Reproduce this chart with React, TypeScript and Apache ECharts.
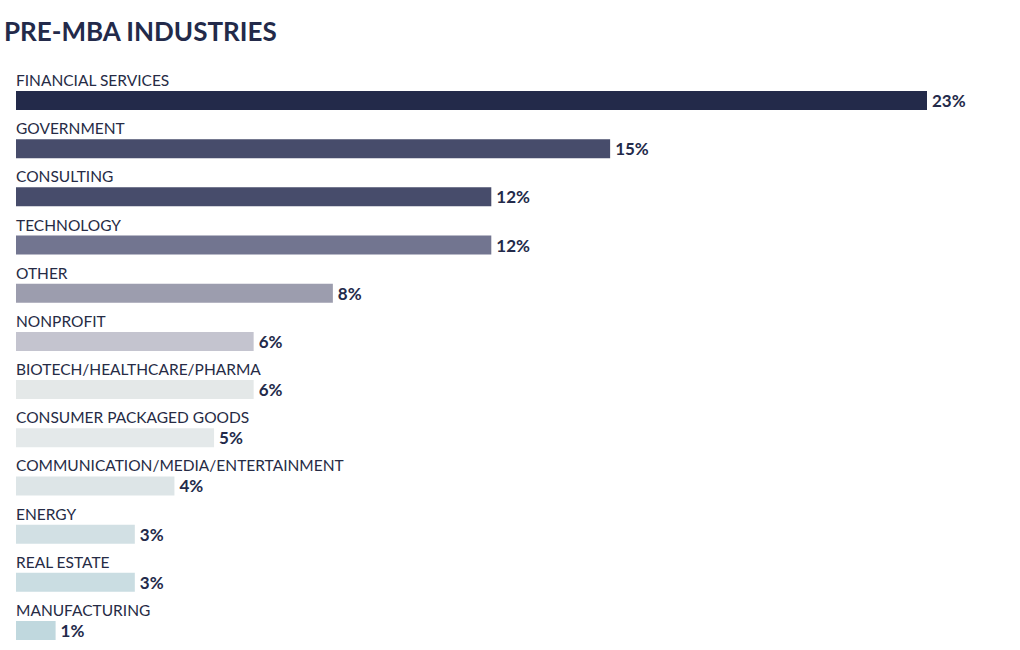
import React, { useEffect, useRef } from "react";
import * as echarts from "echarts";

const categories = [
  "FINANCIAL SERVICES",
  "GOVERNMENT",
  "CONSULTING",
  "TECHNOLOGY",
  "OTHER",
  "NONPROFIT",
  "BIOTECH/HEALTHCARE/PHARMA",
  "CONSUMER PACKAGED GOODS",
  "COMMUNICATION/MEDIA/ENTERTAINMENT",
  "ENERGY",
  "REAL ESTATE",
  "MANUFACTURING",
];
const values = [23, 15, 12, 12, 8, 6, 6, 5, 4, 3, 3, 1];
const barColors = [
  "#232a4a",
  "#474c6b",
  "#474c6b",
  "#727590",
  "#9c9dae",
  "#c4c4cf",
  "#e4e8e8",
  "#e4e9ea",
  "#dde5e7",
  "#d2e0e4",
  "#cadde2",
  "#c0d8de",
];
const title = "PRE-MBA INDUSTRIES";

const FONT = "Lato, 'Noto Sans', sans-serif";
const DARK = "#232a4a";

export default function App() {
  const ref = useRef<HTMLDivElement>(null);
  useEffect(() => {
    if (!ref.current) return;
    const chart = echarts.init(ref.current, null, { renderer: "svg" });
    chart.setOption({
      animation: false,
      backgroundColor: "#ffffff",
      title: {
        text: title,
        left: 4,
        top: 18,
        padding: 0,
        textStyle: { fontFamily: FONT, fontSize: 26, fontWeight: "bold", color: DARK },
      },
      grid: { left: 16, top: 76.4, width: 911, height: 578.2, containLabel: false },
      xAxis: { type: "value", min: 0, max: 23, show: false },
      yAxis: {
        type: "category",
        data: categories,
        inverse: true,
        show: false,
      },
      series: [
        {
          type: "bar",
          data: values.map((v, i) => ({ value: v, itemStyle: { color: barColors[i] } })),
          barWidth: 19,
          label: {
            show: true,
            position: "right",
            distance: 5,
            formatter: (p: any) => p.value + "%",
            fontFamily: FONT,
            fontSize: 17,
            fontWeight: "bold",
            color: DARK,
          },
        },
        {
          type: "bar",
          data: values,
          barWidth: 19,
          barGap: "-100%",
          itemStyle: { color: "rgba(0,0,0,0)" },
          silent: true,
          label: {
            show: true,
            position: [0, -11],
            align: "left",
            verticalAlign: "middle",
            formatter: "{b}",
            fontFamily: FONT,
            fontSize: 15.5,
            color: "#262b45",
          },
        },
      ],
    });
    return () => chart.dispose();
  }, []);
  return (
    <div
      ref={ref}
      style={{ position: "fixed", left: 0, top: 0, width: 1020, height: 660 }}
    />
  );
}
